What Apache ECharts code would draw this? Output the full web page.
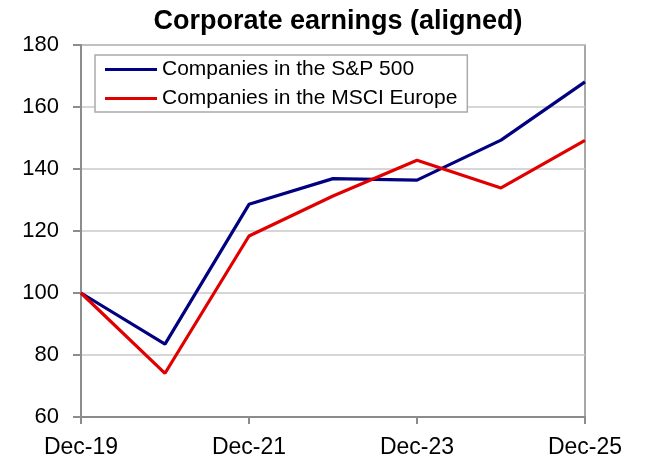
<!DOCTYPE html>
<html>
<head>
<meta charset="utf-8">
<script src="https://cdn.jsdelivr.net/npm/echarts@6/dist/echarts.min.js"></script>
<style>html,body{margin:0;padding:0;background:#fff}#c{width:645px;height:459px}</style>
</head>
<body>
<div id="c"></div>
<script>
const categories = ['Dec-19','Dec-20','Dec-21','Dec-22','Dec-23','Dec-24','Dec-25'];
const sp500 = [100, 83.5, 128.6, 136.9, 136.4, 149.3, 168.1];
const msciEurope = [100, 74.1, 118.4, 131.3, 142.8, 133.9, 149.2];
const seriesNames = ['Companies in the S&P 500', 'Companies in the MSCI Europe'];
const yMin = 60, yMax = 180, yStep = 20;

const FONT = '"Liberation Sans", Arial, sans-serif';
const chart = echarts.init(document.getElementById('c'), null, {renderer: 'canvas'});
chart.setOption({
  animation: false,
  backgroundColor: '#fff',
  title: {
    text: 'Corporate earnings (aligned)',
    left: 333, top: 3, textAlign: 'center',
    textStyle: {fontFamily: FONT, fontWeight: 'bold', fontSize: 27, color: '#000'}
  },
  legend: {
    orient: 'vertical',
    left: 95, top: 55,
    itemWidth: 52, itemHeight: 3, itemGap: 8,
    icon: 'rect',
    backgroundColor: '#fff',
    borderColor: '#aaaaaa', borderWidth: 1.5,
    padding: [4, 10, 3, 10],
    textStyle: {fontFamily: FONT, fontSize: 21, color: '#000'},
    data: seriesNames
  },
  grid: {
    left: 81, right: 60, top: 45, bottom: 42,
    show: true, borderColor: '#8c8c8c', borderWidth: 1.5
  },
  xAxis: {
    type: 'category',
    data: categories,
    boundaryGap: false,
    axisLine: {lineStyle: {color: '#8c8c8c', width: 2}},
    axisTick: {show: true, interval: 1, length: 7, lineStyle: {color: '#8c8c8c', width: 2}},
    axisLabel: {interval: 1, fontFamily: FONT, fontSize: 23, color: '#000', margin: 19},
    splitLine: {show: false}
  },
  yAxis: {
    type: 'value',
    min: yMin, max: yMax, interval: yStep,
    axisLine: {show: true, lineStyle: {color: '#8c8c8c', width: 2}},
    axisTick: {show: true, length: 8, lineStyle: {color: '#8c8c8c', width: 2}},
    axisLabel: {fontFamily: FONT, fontSize: 22, color: '#000', margin: 22},
    splitLine: {show: true, lineStyle: {color: '#c8c8c8', width: 1.5}}
  },
  series: [
    {name: seriesNames[0], type: 'line', data: sp500, symbol: 'none',
     lineStyle: {color: '#000080', width: 3.2}, itemStyle: {color: '#000080'}},
    {name: seriesNames[1], type: 'line', data: msciEurope, symbol: 'none',
     lineStyle: {color: '#e00000', width: 3.2}, itemStyle: {color: '#e00000'}}
  ]
});
</script>
</body>
</html>
